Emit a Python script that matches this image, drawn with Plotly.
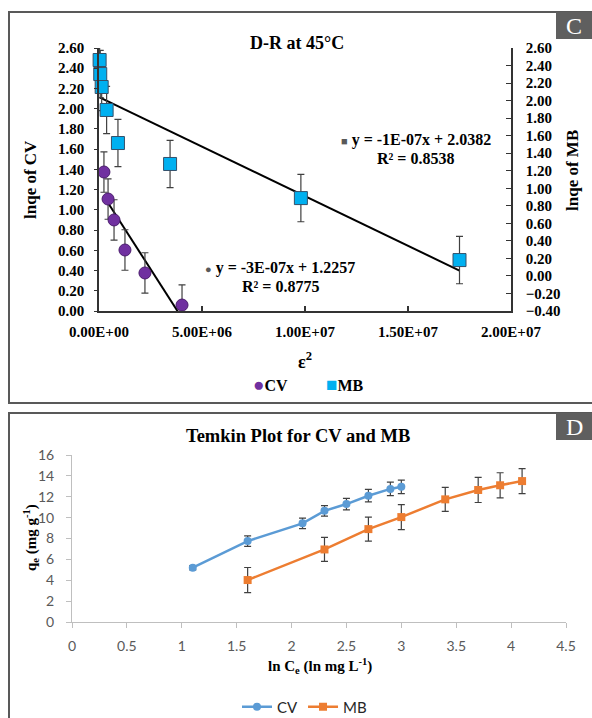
import numpy as np
import plotly.graph_objects as go

# ---------------- Panel C data (D-R at 45°C) ----------------
cv_eps2 = [2.4e5, 4.4e5, 7.3e5, 1.26e6, 2.23e6, 4.03e6]
cv_lnqe = [1.374, 1.107, 0.90, 0.603, 0.376, 0.059]
cv_lnqe_err = [0.2, 0.2, 0.2, 0.2, 0.2, 0.2]

mb_eps2 = [3e4, 6e4, 1.3e5, 3.7e5, 9.2e5, 3.45e6, 9.8e6, 1.75e7]
mb_lnqe = [2.463, 2.303, 2.155, 1.893, 1.516, 1.277, 0.888, 0.181]
mb_lnqe_err = [0.27, 0.27, 0.27, 0.27, 0.27, 0.27, 0.27, 0.27]

c_xticks = [0, 5e6, 1e7, 1.5e7, 2e7]

# ---------------- Panel D data (Temkin) ----------------
cv_lnce = [1.1, 1.6, 2.1, 2.3, 2.5, 2.7, 2.9, 3.0]
cv_qe = [5.2, 7.75, 9.45, 10.65, 11.3, 12.1, 12.75, 12.95]
cv_qe_err = [0.2, 0.5, 0.5, 0.5, 0.55, 0.6, 0.65, 0.65]

mb_lnce = [1.6, 2.3, 2.7, 3.0, 3.4, 3.7, 3.9, 4.1]
mb_qe = [4.02, 6.95, 8.9, 10.05, 11.75, 12.65, 13.1, 13.5]
mb_qe_err = [1.2, 1.15, 1.15, 1.2, 1.15, 1.2, 1.2, 1.2]

W, H = 592, 718
def px(x):
    return x / W
def py(y):
    return 1 - y / H

SERIF = "Liberation Serif"
SANS = "Lato"

fig = go.Figure()

# trendlines (linear least squares, drawn over data x-range)
cv_fit = np.polyfit(cv_eps2, cv_lnqe, 1)
mb_fit = np.polyfit(mb_eps2, mb_lnqe, 1)
cv_tx = [min(cv_eps2), max(cv_eps2)]
mb_tx = [min(mb_eps2), max(mb_eps2)]

fig.add_trace(go.Scatter(x=cv_tx, y=list(np.polyval(cv_fit, cv_tx)), mode="lines",
                         line=dict(color="black", width=2), showlegend=False,
                         xaxis="x", yaxis="y", hoverinfo="skip"))
fig.add_trace(go.Scatter(x=cv_eps2, y=cv_lnqe, mode="markers", name="CV",
                         marker=dict(symbol="circle", size=12, color="#7030A0",
                                     line=dict(color="#4b1d6e", width=1)),
                         error_y=dict(type="data", array=cv_lnqe_err, color="#404040",
                                      thickness=1.2, width=3.5),
                         cliponaxis=False, showlegend=False, xaxis="x", yaxis="y"))

fig.add_trace(go.Scatter(x=mb_tx, y=list(np.polyval(mb_fit, mb_tx)), mode="lines",
                         line=dict(color="black", width=2), showlegend=False,
                         xaxis="x", yaxis="y2", hoverinfo="skip"))
fig.add_trace(go.Scatter(x=mb_eps2, y=mb_lnqe, mode="markers", name="MB",
                         marker=dict(symbol="square", size=13, color="#00B0F0",
                                     line=dict(color="#34506a", width=1)),
                         error_y=dict(type="data", array=mb_lnqe_err, color="#404040",
                                      thickness=1.2, width=3.5),
                         cliponaxis=False, showlegend=False, xaxis="x", yaxis="y2"))

# Panel D
fig.add_trace(go.Scatter(x=cv_lnce, y=cv_qe, mode="lines+markers", name="CV",
                         line=dict(color="#5B9BD5", width=2.5),
                         marker=dict(symbol="circle", size=8, color="#5B9BD5"),
                         error_y=dict(type="data", array=cv_qe_err, color="#404040",
                                      thickness=1.2, width=3.5),
                         xaxis="x2", yaxis="y3", legend="legend2"))
fig.add_trace(go.Scatter(x=mb_lnce, y=mb_qe, mode="lines+markers", name="MB",
                         line=dict(color="#ED7D31", width=2.5),
                         marker=dict(symbol="square", size=8, color="#ED7D31"),
                         error_y=dict(type="data", array=mb_qe_err, color="#404040",
                                      thickness=1.2, width=3.5),
                         xaxis="x2", yaxis="y3", legend="legend2"))

cfont = dict(family=SERIF, size=15, color="black", weight="bold")
dfont = dict(family=SANS, size=14, color="#595959")

fig.update_layout(
    width=W, height=H, margin=dict(l=0, r=0, t=0, b=0, autoexpand=False),
    paper_bgcolor="white", plot_bgcolor="white",
    xaxis=dict(domain=[px(99), px(511)], range=[0, 2e7], anchor="y", automargin=False,
               tickvals=c_xticks, ticktext=[f"{v:.2E}" for v in c_xticks],
               ticks="inside", ticklen=5, tickcolor="#333", tickwidth=1.5,
               showline=True, linecolor="#333", linewidth=1.5, showgrid=False,
               zeroline=False, tickfont=cfont, ticklabelstandoff=6),
    yaxis=dict(domain=[py(311), py(48)], range=[0, 2.6], dtick=0.2, tickformat=".2f",
               anchor="x", ticks="outside", ticklen=3, tickcolor="#333", automargin=False,
               showline=True, linecolor="#333", linewidth=1.5, showgrid=False,
               zeroline=False, tickfont=cfont, ticklabelstandoff=7),
    yaxis2=dict(range=[-0.4, 2.6], dtick=0.2, tickformat=".2f", overlaying="y",
                side="right", anchor="x", ticks="inside", ticklen=5, tickcolor="#333",
                automargin=False,
                showline=True, linecolor="#333", linewidth=1.5, showgrid=False,
                zeroline=False, tickfont=cfont, ticklabelstandoff=10),
    xaxis2=dict(domain=[px(72), px(566)], range=[0, 4.5], dtick=0.5, anchor="y3",
                ticks="outside", ticklen=5, tickcolor="#bfbfbf", automargin=False,
                showline=True, linecolor="#bfbfbf", linewidth=1, showgrid=False,
                zeroline=False, tickfont=dfont, ticklabelstandoff=6),
    yaxis3=dict(domain=[py(622), py(455)], range=[0, 16], dtick=2, anchor="x2",
                ticks="outside", ticklen=5, tickcolor="#bfbfbf", automargin=False,
                showline=True, linecolor="#bfbfbf", linewidth=1, showgrid=False,
                zeroline=False, tickfont=dfont, ticklabelstandoff=9),
    legend2=dict(orientation="h", x=px(237), y=py(707), xanchor="left", yanchor="middle",
                 font=dict(family=SANS, size=15, color="#262626"),
                 bgcolor="rgba(0,0,0,0)", itemwidth=30, tracegroupgap=0),
    showlegend=True,
)

shapes = [
    dict(type="rect", xref="paper", yref="paper", x0=px(9), x1=px(600), y0=py(403), y1=py(12),
         line=dict(color="#595959", width=2), fillcolor="rgba(0,0,0,0)", layer="below"),
    dict(type="rect", xref="paper", yref="paper", x0=px(9), x1=px(600), y0=py(730), y1=py(413),
         line=dict(color="#595959", width=2), fillcolor="rgba(0,0,0,0)", layer="below"),
    dict(type="rect", xref="paper", yref="paper", x0=px(556), x1=px(600), y0=py(39), y1=py(12),
         line=dict(width=0), fillcolor="#5f5f5f", layer="above"),
    dict(type="rect", xref="paper", yref="paper", x0=px(556), x1=px(600), y0=py(440), y1=py(413),
         line=dict(width=0), fillcolor="#5f5f5f", layer="above"),
]
fig.update_layout(shapes=shapes)

def ann(x, y, text, size=14, color="black", weight="bold", family=SERIF, angle=0,
        xanchor="center"):
    return dict(x=px(x), y=py(y), xref="paper", yref="paper", text=text, showarrow=False,
                xanchor=xanchor, yanchor="middle", textangle=angle,
                font=dict(family=family, size=size, color=color, weight=weight))

anns = [
    ann(297, 43, "D-R at 45°C", size=18),
    ann(574, 26, "C", size=24, color="white", weight="normal"),
    ann(574, 427, "D", size=24, color="white", weight="normal"),
    ann(416, 140, "<span style='color:#595959;font-size:11px'>■</span> y = -1E-07x + 2.0382", size=16),
    ann(415, 158, "R² = 0.8538", size=16),
    ann(280, 268, "<span style='color:#595959;font-size:11px'>●</span> y = -3E-07x + 1.2257", size=16),
    ann(280, 286, "R² = 0.8775", size=16),
    ann(30, 180, "lnqe of CV", size=17, angle=-90),
    ann(573, 171, "lnqe of MB", size=17, angle=-90),
    ann(305, 360, "ε<sup>2</sup>", size=18),
    ann(251, 384, "<span style='color:#7030A0;font-size:19px'>●</span>CV", size=16, xanchor="left"),
    ann(324, 384, "<span style='color:#00B0F0;font-size:19px'>■</span>MB", size=16, xanchor="left"),
    ann(298, 436, "Temkin Plot for CV and MB", size=18.5),
    ann(31, 538, "q<sub>e</sub> (mg g<sup>-1</sup>)", size=15, angle=-90),
    ann(320, 666, "ln C<sub>e</sub> (ln mg L<sup>-1</sup>)", size=15),
]
fig.update_layout(annotations=anns)

fig.write_html("out.html")
